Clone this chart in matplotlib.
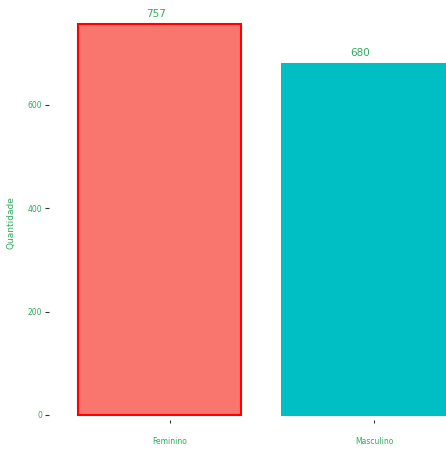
import matplotlib
matplotlib.use("Agg")
import matplotlib.pyplot as plt

categorias = ["Feminino", "Masculino"]
quantidades = [757, 680]
cores = ["#F8766D", "#00BFC4"]
bordas = ["red", "#00BFC4"]

verde = "#2EAA5C"

fig = plt.figure(figsize=(4.46, 4.55), dpi=100)
# axes in pixel terms: left 49, right 446, bottom at 420px from top, top at 0
ax = fig.add_axes([49 / 446, (455 - 420) / 455, (446 - 49) / 446, 420 / 455])

pos = list(range(len(categorias)))
ax.bar([p - 0.05 for p in pos], quantidades, width=0.8, color=cores,
       edgecolor=bordas, linewidth=1.5)

for p, q in zip(pos, quantidades):
    ax.text(p - 0.07, q + 10, str(q), ha="center", va="bottom",
            color=verde, fontsize=7.5, family="DejaVu Sans")

ax.set_xlim(-0.593, 1.353)
ax.set_ylim(-9.7, 803)
ax.set_xticks(pos)
ax.set_xticklabels(categorias, fontsize=5.5, color=verde)
ax.set_yticks([0, 200, 400, 600])
ax.tick_params(axis="y", labelsize=5.5, labelcolor=verde, length=3,
               width=0.8, color="#333333", pad=2)
ax.tick_params(axis="x", length=2, width=0.8, color="#333333", pad=10)
ax.set_ylabel("Quantidade", color=verde, fontsize=6.5, labelpad=10)
ax.yaxis.set_label_coords(-0.085, 0.47)

for s in ax.spines.values():
    s.set_visible(False)

fig.savefig("out.png", dpi=100)
